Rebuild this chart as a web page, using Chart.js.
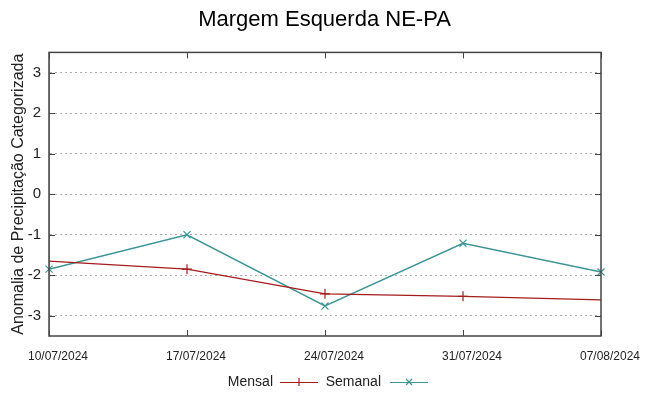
<!DOCTYPE html>
<html>
<head>
<meta charset="utf-8">
<script src="https://cdn.jsdelivr.net/npm/chart.js@4/dist/chart.umd.min.js"></script>
<style>
  html, body { margin: 0; padding: 0; background: #fff; }
  #wrap { width: 649px; height: 396px; }
</style>
</head>
<body>
<div id="wrap"><canvas id="chart" width="649" height="396"></canvas></div>
<script>
// Data
const dates = ["10/07/2024", "17/07/2024", "24/07/2024", "31/07/2024", "07/08/2024"];
const mensal = [-1.65, -1.85, -2.46, -2.52, -2.61];
const semanal = [-1.85, -1.0, -2.76, -1.21, -1.92];
const yTicks = [-3, -2, -1, 0, 1, 2, 3];

const redColor = "#a51c1c";
const tealColor = "#3f9595";
const font = "'Liberation Sans', Arial, sans-serif";

// frame, inward ticks and gnuplot-style legend
const framePlugin = {
    id: "frame",
    afterDatasetsDraw(chart) {
        const { ctx, chartArea: a, scales } = chart;
        ctx.save();
        ctx.strokeStyle = "#444";
        ctx.lineWidth = 1;
        ctx.beginPath();
        yTicks.forEach(v => {
            const y = Math.round(scales.y.getPixelForValue(v)) + 0.5;
            ctx.moveTo(a.left, y); ctx.lineTo(a.left + 6, y);
            ctx.moveTo(a.right, y); ctx.lineTo(a.right - 6, y);
        });
        dates.forEach((d, i) => {
            const x = Math.round(scales.x.getPixelForValue(i)) + 0.5;
            ctx.moveTo(x, a.bottom); ctx.lineTo(x, a.bottom - 6);
            ctx.moveTo(x, a.top); ctx.lineTo(x, a.top + 6);
        });
        ctx.stroke();
        ctx.lineWidth = 1.5;
        ctx.strokeRect(a.left, a.top, a.right - a.left, a.bottom - a.top);

        // legend
        const ly = 382;
        ctx.font = "14px " + font;
        ctx.textBaseline = "middle";
        const items = [
            { label: "Mensal", color: redColor, textRight: 273, x0: 280, style: "plus" },
            { label: "Semanal", color: tealColor, textRight: 381, x0: 390, style: "x" }
        ];
        items.forEach(it => {
            ctx.textAlign = "right";
            ctx.fillStyle = "#222";
            ctx.fillText(it.label, it.textRight, ly);
            ctx.strokeStyle = it.color;
            ctx.lineWidth = 1.2;
            ctx.beginPath();
            ctx.moveTo(it.x0, ly + 0.5); ctx.lineTo(it.x0 + 38, ly + 0.5);
            const cx = it.x0 + 19;
            if (it.style === "plus") {
                ctx.moveTo(cx, ly - 4); ctx.lineTo(cx, ly + 4);
            } else {
                ctx.moveTo(cx - 3, ly - 3); ctx.lineTo(cx + 3, ly + 3);
                ctx.moveTo(cx + 3, ly - 3); ctx.lineTo(cx - 3, ly + 3);
            }
            ctx.stroke();
        });
        ctx.restore();
    }
};

new Chart(document.getElementById("chart"), {
    type: "line",
    data: {
        labels: dates,
        datasets: [{
            label: "Mensal",
            data: mensal,
            borderColor: redColor,
            backgroundColor: redColor,
            borderWidth: 1.3,
            pointStyle: "cross",
            // no visible marker at the plot edges in the original
            pointRadius: [0, 5, 5, 5, 0],
            pointBorderWidth: 1.2,
            tension: 0,
            fill: false,
            clip: 0
        }, {
            label: "Semanal",
            data: semanal,
            borderColor: tealColor,
            backgroundColor: tealColor,
            borderWidth: 1.5,
            pointStyle: "crossRot",
            pointRadius: 5,
            pointBorderWidth: 1.2,
            tension: 0,
            fill: false
        }]
    },
    options: {
        responsive: false,
        animation: false,
        layout: { padding: 0 },
        plugins: {
            legend: { display: false },
            tooltip: { enabled: false },
            title: {
                display: true,
                text: "Margem Esquerda NE-PA",
                color: "#000",
                font: { family: font, size: 22, weight: "normal" },
                padding: { top: 7, bottom: 19 }
            }
        },
        scales: {
            x: {
                type: "category",
                offset: false,
                grid: { display: false, drawTicks: false },
                border: { display: false },
                ticks: {
                    color: "#222",
                    font: { family: font, size: 12 },
                    padding: 13,
                    labelOffset: 9,
                    maxRotation: 0,
                    autoSkip: false
                },
                afterFit(scale) { scale.height = 60; }
            },
            y: {
                min: -3.5,
                max: 3.5,
                afterBuildTicks(scale) { scale.ticks = yTicks.map(v => ({ value: v })); },
                grid: {
                    color: "#aaa",
                    lineWidth: 1,
                    drawTicks: false
                },
                border: { display: true, color: "#aaa", dash: [2, 3] },
                ticks: {
                    color: "#222",
                    font: { family: font, size: 15 },
                    padding: 8
                },
                title: {
                    display: true,
                    text: "Anomalia de Precipitação Categorizada",
                    color: "#222",
                    font: { family: font, size: 16 },
                    padding: { top: 9, bottom: 0 }
                },
                afterFit(scale) { scale.width = 49; }
            },
            // empty right axis only reserves the right margin
            yr: {
                position: "right",
                grid: { display: false, drawTicks: false },
                border: { display: false },
                ticks: { display: false },
                afterFit(scale) { scale.width = 48; }
            }
        }
    },
    plugins: [framePlugin]
});
</script>
</body>
</html>
